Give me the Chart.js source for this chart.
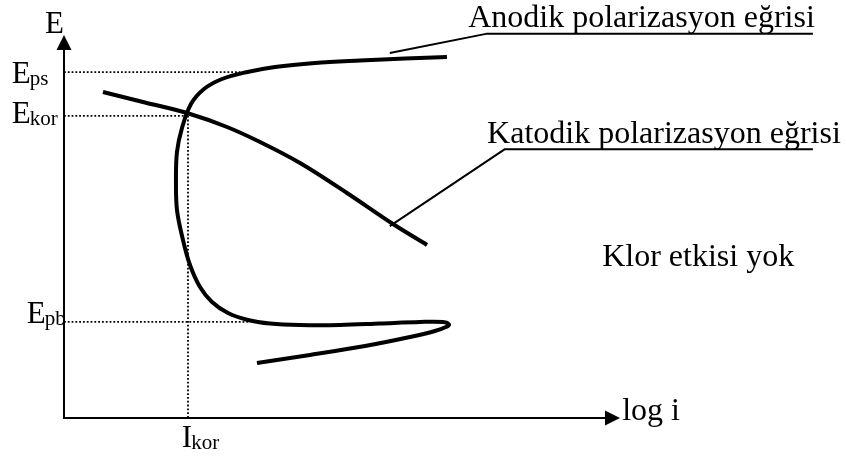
<!DOCTYPE html>
<html>
<head>
<meta charset="utf-8">
<script src="https://cdn.jsdelivr.net/npm/chart.js@4.4.1/dist/chart.umd.min.js"></script>
<style>
  html, body { margin: 0; padding: 0; background: #ffffff; }
  #wrap { width: 846px; height: 461px; }
</style>
</head>
<body>
<div id="wrap"><canvas id="chart" width="846" height="461"></canvas></div>
<script>
// anodic polarization curve: passive loop at the bottom, then up through E_kor to the top branch
const anodicLogI = [34.71, 44.24, 54.14, 62.23, 66.73, 68.71, 69.24, 68.17, 64.03, 56.83, 49.64, 42.45, 37.05, 33.09, 29.50, 26.62, 24.46, 22.66, 21.40, 20.32, 20.14, 20.32, 21.22, 22.84, 25.18, 28.42, 32.55, 37.95, 45.14, 53.24, 61.33, 68.88];
const anodicE = [14.36, 16.45, 18.80, 21.15, 22.72, 23.76, 24.41, 25.07, 25.07, 24.67, 24.28, 24.28, 24.67, 25.59, 27.42, 30.29, 34.20, 39.95, 46.48, 54.31, 62.14, 69.45, 75.72, 81.98, 85.90, 88.51, 90.21, 91.64, 92.69, 93.34, 93.86, 94.26];

// cathodic polarization curve
const cathodicLogI = [7.01, 14.57, 22.12, 29.32, 34.89, 42.45, 50.90, 59.17, 65.29];
const cathodicE = [85.12, 82.38, 79.63, 75.98, 72.32, 66.58, 58.75, 50.65, 45.17];

// characteristic potentials and corrosion current
const levelNames = ['ps', 'kor', 'pb'];
const levelE = [90.3, 78.9, 25.1];
const levelEndLogI = [31.7, 22.1, 33.5];
const iKor = 22.3;

// leader lines to the curve names (last two points form the underline)
const anodicLeaderLogI = [58.6, 75.9, 134.7];
const anodicLeaderE = [95.3, 100.3, 100.3];
const cathodicLeaderLogI = [58.6, 79.3, 134.7];
const cathodicLeaderE = [50.1, 70.2, 70.2];

const noteTexts = ['Anodik polarizasyon eğrisi', 'Katodik polarizasyon eğrisi', 'Klor etkisi yok'];

const AXIS_MAX = 100;
const SERIF = '"Liberation Serif", "Times New Roman", serif';

const toPoints = (xs, ys) => xs.map((v, i) => ({ x: v, y: ys[i] }));
const dotted = { borderColor: '#000', borderWidth: 1.8, borderDash: [1.8, 2.0], tension: 0 };

const datasets = [
  {
    data: toPoints(anodicLogI, anodicE),
    borderColor: '#000', borderWidth: 4, tension: 0.35,
  },
  {
    data: toPoints(cathodicLogI, cathodicE),
    borderColor: '#000', borderWidth: 4, cubicInterpolationMode: 'monotone',
  },
  {
    data: toPoints(anodicLeaderLogI, anodicLeaderE),
    borderColor: '#000', borderWidth: 2, tension: 0,
  },
  {
    data: toPoints(cathodicLeaderLogI, cathodicLeaderE),
    borderColor: '#000', borderWidth: 2, tension: 0,
  },
];

levelE.forEach((e, i) => {
  datasets.push({ data: [{ x: 0, y: e }, { x: levelEndLogI[i], y: e }], ...dotted });
});
datasets.push({ data: [{ x: iKor, y: levelE[1] }, { x: iKor, y: 0 }], ...dotted });

// label anchors: left edge / baseline, in data units
const layout = {
  notes: [[72.7, 102.1], [76.1, 71.8], [96.8, 39.7]],
  logI: [100.4, -0.5],
  axisE: [-3.4, 100.5],
  levels: [[-9.4, 87.5], [-9.4, 77.0], [-6.7, 24.8]],
  iKor: [21.2, -7.6],
};

function subscripted(ctx, main, sub, px, py) {
  ctx.font = `31px ${SERIF}`;
  ctx.fillText(main, px, py);
  const w = ctx.measureText(main).width;
  ctx.font = `21px ${SERIF}`;
  ctx.fillText(sub, px + w - 1, py + 2);
}

const schemePlugin = {
  id: 'polarizationScheme',
  afterDatasetsDraw(chart) {
    const { ctx, scales: { x, y } } = chart;
    const px = (v) => x.getPixelForValue(v);
    const py = (v) => y.getPixelForValue(v);
    const ox = px(0);
    const oy = py(0);
    const xTip = px(AXIS_MAX);
    const yTip = py(AXIS_MAX);

    ctx.save();
    ctx.strokeStyle = '#000';
    ctx.fillStyle = '#000';
    ctx.lineWidth = 2;
    ctx.beginPath();
    ctx.moveTo(ox, oy);
    ctx.lineTo(ox, yTip + 14);
    ctx.moveTo(ox - 1, oy);
    ctx.lineTo(xTip - 14, oy);
    ctx.stroke();

    // arrow heads
    ctx.beginPath();
    ctx.moveTo(ox, yTip);
    ctx.lineTo(ox - 7.5, yTip + 15);
    ctx.lineTo(ox + 7.5, yTip + 15);
    ctx.closePath();
    ctx.fill();
    ctx.beginPath();
    ctx.moveTo(xTip, oy);
    ctx.lineTo(xTip - 15, oy - 7.5);
    ctx.lineTo(xTip - 15, oy + 7.5);
    ctx.closePath();
    ctx.fill();

    ctx.textAlign = 'left';
    ctx.textBaseline = 'alphabetic';
    ctx.font = `32px ${SERIF}`;
    noteTexts.forEach((t, i) => {
      const [lx, ly] = layout.notes[i];
      ctx.fillText(t, px(lx), py(ly));
    });
    ctx.fillText('log i', px(layout.logI[0]), py(layout.logI[1]));
    ctx.font = `31px ${SERIF}`;
    ctx.fillText('E', px(layout.axisE[0]), py(layout.axisE[1]));

    levelNames.forEach((name, i) => {
      const [lx, ly] = layout.levels[i];
      subscripted(ctx, 'E', name, px(lx), py(ly));
    });
    subscripted(ctx, 'I', 'kor', px(layout.iKor[0]), py(layout.iKor[1]));
    ctx.restore();
  },
};

new Chart(document.getElementById('chart'), {
  type: 'scatter',
  data: { datasets },
  options: {
    responsive: false,
    animation: false,
    showLine: true,
    layout: { padding: 0 },
    elements: {
      point: { radius: 0, hoverRadius: 0 },
      line: { capBezierPoints: true, borderCapStyle: 'butt', borderJoinStyle: 'round' },
    },
    scales: {
      x: { type: 'linear', display: false, min: -11.51, max: 140.65 },
      y: { type: 'linear', display: false, min: -11.23, max: 109.14 },
    },
    plugins: {
      legend: { display: false },
      tooltip: { enabled: false },
    },
  },
  plugins: [schemePlugin],
});
</script>
</body>
</html>
